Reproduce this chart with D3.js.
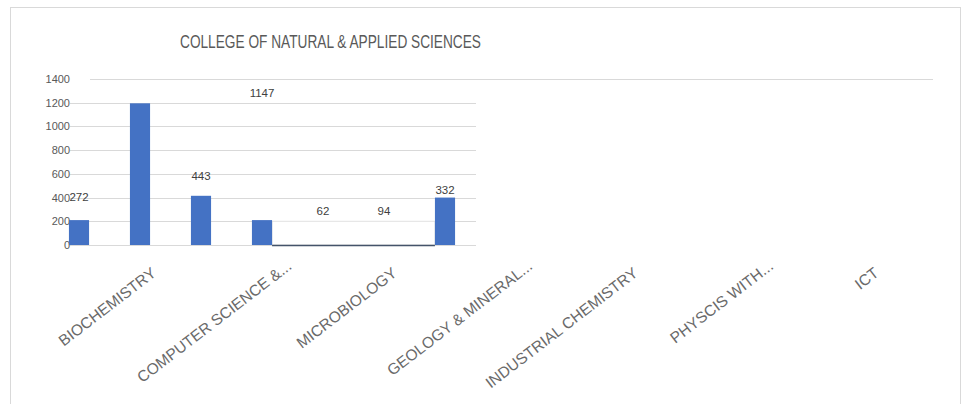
<!DOCTYPE html>
<html>
<head>
<meta charset="utf-8">
<script src="https://cdn.jsdelivr.net/npm/d3@7"></script>
<style>
  html, body { margin: 0; padding: 0; background: #ffffff; }
  svg { display: block; }
  text { font-family: "Liberation Sans Narrow", "Arial Narrow", "Liberation Sans", sans-serif; }
</style>
</head>
<body>
<svg id="chart" width="966" height="404"></svg>
<script>
// ---- data ----
const title = "COLLEGE OF NATURAL & APPLIED SCIENCES";
const categories = ["BIOCHEMISTRY", "COMPUTER SCIENCE &...", "MICROBIOLOGY", "GEOLOGY & MINERAL...", "INDUSTRIAL CHEMISTRY", "PHYSCIS WITH...", "ICT"];
const barValues = [210, 1195, 415, 210, 0, 0, 400];
const dataLabels = [272, null, 443, 1147, 62, 94, 332];
const yTicks = [0, 200, 400, 600, 800, 1000, 1200, 1400];

// ---- layout ----
const svg = d3.select("#chart");

// chart frame
svg.append("rect").attr("x", 10.5).attr("y", 7.5).attr("width", 950).attr("height", 410)
  .attr("fill", "#fff").attr("stroke", "#d9d9d9").attr("stroke-width", 1);

const y = d3.scaleLinear().domain([0, 1400]).range([245, 79]);
const xBars = d3.scaleBand().domain(categories).range([48.5, 475.5]).paddingInner(0.67).paddingOuter(0.335);
const xAxis = d3.scaleBand().domain(categories).range([90, 933]);

// gridlines
const grid = svg.append("g");
yTicks.forEach(t => {
  const top = t === d3.max(yTicks);
  grid.append("line")
    .attr("x1", top ? 90 : 70).attr("x2", top ? 933 : 476)
    .attr("y1", Math.round(y(t)) + 0.5).attr("y2", Math.round(y(t)) + 0.5)
    .attr("stroke", "#d9d9d9").attr("stroke-width", 1.2);
});

// y axis labels
const yAx = d3.axisLeft(y).tickValues(yTicks).tickFormat(d3.format("d")).tickSize(0).tickPadding(0);
const gy = svg.append("g").attr("transform", "translate(70,0)").call(yAx);
gy.select(".domain").remove();
gy.selectAll("text").attr("font-size", 11).attr("fill", "#595959")
  .attr("font-family", "'Liberation Sans Narrow','Arial Narrow','Liberation Sans',sans-serif");

// blank (zero) segment between bars
const zeroCats = categories.filter((c, i) => barValues[i] === 0);
const gapX0 = xBars(categories[categories.indexOf(zeroCats[0]) - 1]) + xBars.bandwidth();
const gapX1 = xBars(categories[categories.indexOf(zeroCats[zeroCats.length - 1]) + 1]);
svg.append("rect").attr("x", gapX0).attr("y", y(200)).attr("width", gapX1 - gapX0).attr("height", y(0) - y(200))
  .attr("fill", "#ffffff").attr("stroke", "#e3e3e3").attr("stroke-width", 1);
svg.append("line").attr("x1", gapX0).attr("x2", gapX1).attr("y1", y(0) + 0.5).attr("y2", y(0) + 0.5)
  .attr("stroke", "#44546a").attr("stroke-width", 1.6);

// bars
svg.append("g").selectAll("rect").data(categories.map((c, i) => ({ c, v: barValues[i] })).filter(d => d.v > 0))
  .join("rect")
  .attr("x", d => xBars(d.c)).attr("width", xBars.bandwidth())
  .attr("y", d => y(d.v)).attr("height", d => y(0) - y(d.v))
  .attr("fill", "#4472c4");

// data labels
svg.append("g").selectAll("text").data(categories.map((c, i) => ({ c, v: dataLabels[i] })).filter(d => d.v !== null))
  .join("text")
  .attr("x", d => xBars(d.c) + xBars.bandwidth() / 2)
  .attr("y", d => Math.min(y(d.v) - 12, y(250)))
  .attr("text-anchor", "middle").attr("font-size", 11.5).attr("fill", "#404040")
  .text(d => d.v);

// category axis labels
svg.append("g").selectAll("text").data(categories).join("text")
  .attr("transform", d => {
    const cx = xAxis(d) + xAxis.bandwidth() / 2;
    const trunc = d.endsWith("...");
    return `translate(${cx + (trunc ? 22 : 7)},${trunc ? 268 : 275}) rotate(-37.5)`;
  })
  .attr("text-anchor", "end").attr("font-size", 15.5).attr("fill", "#6a6a6a")
  .attr("font-family", "'Open Sans','Noto Sans',sans-serif")
  .text(d => d);

// title
svg.append("text").attr("x", 180).attr("y", 48)
  .attr("textLength", 301).attr("lengthAdjust", "spacingAndGlyphs")
  .attr("font-size", 19).attr("fill", "#595959")
  .text(title);
</script>
</body>
</html>
